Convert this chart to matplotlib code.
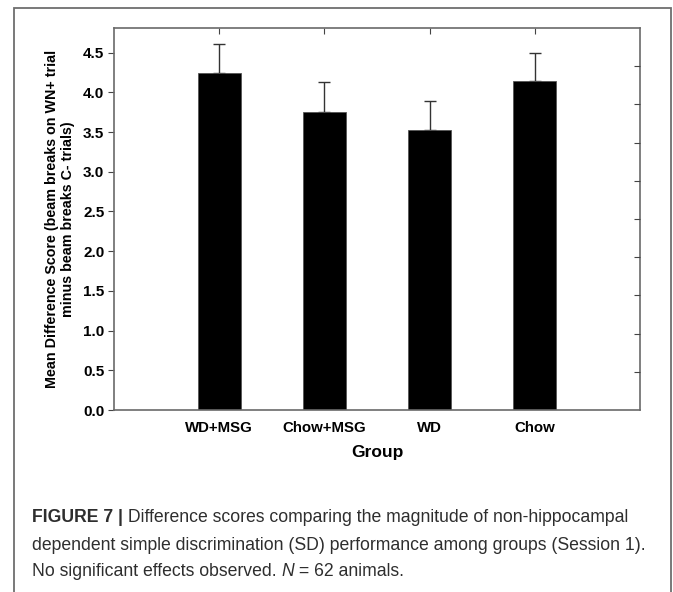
import matplotlib
matplotlib.use("Agg")
import matplotlib.pyplot as plt
from matplotlib.patches import Rectangle

groups = ["WD+MSG", "Chow+MSG", "WD", "Chow"]
means = [4.24, 3.75, 3.52, 4.14]
sems = [0.37, 0.38, 0.37, 0.36]
yticks = [0.0, 0.5, 1.0, 1.5, 2.0, 2.5, 3.0, 3.5, 4.0, 4.5]

W, H = 673, 592
fig = plt.figure(figsize=(W / 100, H / 100), dpi=100)
fig.patch.set_facecolor("white")

# outer frame
fig.add_artist(Rectangle((14 / W, -0.05), (671 - 14) / W, 1.05 - 8 / H,
                         transform=fig.transFigure, fill=False,
                         edgecolor="#6e6e6e", linewidth=1.3))

ax = fig.add_axes([114 / W, 1 - 410 / H, (640 - 114) / W, (410 - 28) / H])
x = list(range(len(groups)))
ax.bar(x, means, width=0.41, color="black", edgecolor="#555555", linewidth=0.6, zorder=2)
ax.errorbar(x, means, yerr=[[0] * len(sems), sems], fmt="none", ecolor="#333333",
            elinewidth=1.0, capsize=4, capthick=1.0, zorder=1)
ax.set_xlim(-1, 4)
ax.set_ylim(0, 4.81)
ax.set_yticks(yticks)
ax.set_yticklabels([f"{v:.1f}" for v in yticks], fontsize=11, fontweight="bold",
                   family="Liberation Sans")
ax.set_xticks(x)
ax.set_xticklabels(groups, fontsize=10.8, fontweight="bold", family="Liberation Sans")
ax.tick_params(axis="x", bottom=False, top=True, direction="in", length=4,
               color="#444444", pad=8)
ax.tick_params(axis="y", direction="out", length=4, color="#444444", pad=3)
for s in ax.spines.values():
    s.set_color("#6a6a6a")
    s.set_linewidth(1.2)
ax.set_xlabel("Group", fontsize=12.5, fontweight="bold", family="Liberation Sans", labelpad=7)
ax.set_ylabel("Mean Difference Score (beam breaks on WN+ trial\nminus beam breaks C- trials)",
              fontsize=10.3, fontweight="bold", family="Liberation Sans", labelpad=6,
              linespacing=1.15)

ax2 = ax.twinx()
ax2.set_ylim(0, 10)
ax2.set_yticks(range(1, 10))
ax2.tick_params(axis="y", direction="in", length=4, color="#444444", labelright=False)
for s in ax2.spines.values():
    s.set_visible(False)

# caption
fig.canvas.draw()
renderer = fig.canvas.get_renderer()
cap_color = "#2e2e2e"
cap_fs = 12.7
cap_family = "Liberation Sans"


def put_line(pieces, y_px, x_px=32):
    xx = x_px / W
    for txt, kw in pieces:
        t = fig.text(xx, 1 - y_px / H, txt, fontsize=cap_fs, color=cap_color,
                     family=cap_family, va="center", ha="left", **kw)
        bb = t.get_window_extent(renderer=renderer)
        xx = (bb.x1) / W


put_line([("FIGURE 7 |", {"fontweight": "bold"}),
          (" Difference scores comparing the magnitude of non-hippocampal", {})], 518)
put_line([("dependent simple discrimination (SD) performance among groups (Session 1).", {})], 545)
put_line([("No significant effects observed. ", {}), ("N", {"style": "italic"}),
          (" = 62 animals.", {})], 572)

fig.savefig("out.png", dpi=100, facecolor="white")
